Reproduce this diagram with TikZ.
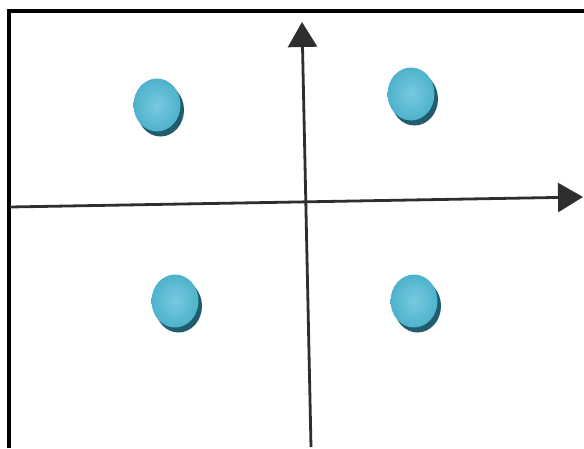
\documentclass[tikz,border=0pt]{standalone}
\usepackage{xcolor}
\usepackage{tikz}
\usetikzlibrary{arrows.meta,shapes.geometric,shadows}

\definecolor{dotblue}{RGB}{78,178,204}
\definecolor{dotlight}{RGB}{120,202,222}
\definecolor{dotshade}{RGB}{32,92,108}

\begin{document}
\begin{tikzpicture}[
    x=1pt, y=-1pt,
    frameline/.style={line width=3.4pt, black},
    axis/.style={-{Triangle[length=25pt, width=29pt]}, line width=2.8pt, black!82},
    point/.style={ellipse, minimum width=47pt, minimum height=53pt, inner sep=0pt,
      inner color=dotlight, outer color=dotblue,
      drop shadow={shadow xshift=3.5pt, shadow yshift=-5pt, fill=dotshade, opacity=1}}
  ]
    \useasboundingbox (0,0) rectangle (584,448);
    \draw[frameline] (9,448) -- (9,11) -- (584,11);
    \coordinate (xstart) at (10,207);
    \coordinate (xend) at (583,197);
    \coordinate (ystart) at (311,447);
    \coordinate (yend) at (302,22);
    \draw[axis] (xstart) -- (xend);
    \draw[axis] (ystart) -- (yend);
    \node[point] (p1) at (157,105) {};
    \node[point] (p2) at (411,94) {};
    \node[point] (p3) at (175,301) {};
    \node[point] (p4) at (414,301) {};
  \end{tikzpicture}
\end{document}
